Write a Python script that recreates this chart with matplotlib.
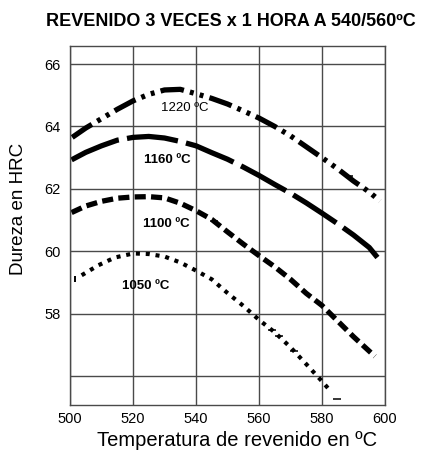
import matplotlib
matplotlib.use("Agg")
import matplotlib.pyplot as plt

# temperaturas de revenido (ºC) y dureza (HRC)
temp_1220 = [500.7, 505, 510, 515, 520, 525, 530, 535, 540, 545, 550, 555, 560,
             565, 570, 575, 580, 585, 590, 595, 598.4]
hrc_1220 = [63.65, 63.95, 64.25, 64.55, 64.82, 65.03, 65.17, 65.19, 65.05, 64.9, 64.72,
            64.5, 64.27, 64.0, 63.7, 63.35, 63.0, 62.64, 62.25, 61.9, 61.61]

temp_1160 = [500.5, 505, 510, 515, 520, 525, 530, 535, 540, 545, 550, 555, 560,
             565, 570, 575, 580, 585, 590, 595, 597.6]
hrc_1160 = [62.93, 63.17, 63.38, 63.56, 63.65, 63.68, 63.63, 63.52, 63.38, 63.16, 62.95,
            62.7, 62.43, 62.14, 61.86, 61.55, 61.22, 60.88, 60.52, 60.12, 59.8]

temp_1100 = [500.5, 505, 510, 515, 520, 525, 530, 535, 540, 545, 550, 555, 560,
             565, 570, 575, 580, 585, 590, 596.8]
hrc_1100 = [61.24, 61.45, 61.6, 61.7, 61.74, 61.75, 61.71, 61.54, 61.3, 61.02, 60.62,
            60.23, 59.86, 59.5, 59.1, 58.65, 58.26, 57.76, 57.26, 56.63]

temp_1050 = [503.7, 509, 514.3, 520.1, 525, 530, 535, 540, 545, 550, 555, 560,
             565, 570, 575, 580, 582.5]
hrc_1050 = [59.23, 59.55, 59.8, 59.93, 59.91, 59.83, 59.64, 59.38, 59.1, 58.66, 58.25,
            57.8, 57.4, 56.92, 56.38, 55.83, 55.54]

# pequeñas marcas sueltas del original escaneado
stray_x = [564.1, 566.3, 571.1, 584.8, 588.6, 545.7]
stray_y = [57.49, 57.27, 56.79, 55.27, 62.41, 60.98]

labels = ["1220 ºC", "1160 ºC", "1100 ºC", "1050 ºC"]
label_x = [536.5, 530.8, 530.5, 524.1]
label_y = [64.6, 62.91, 60.86, 58.88]

x_ticks = [500, 520, 540, 560, 580, 600]
y_ticks = [58, 60, 62, 64, 66]
y_grid = [56, 58, 60, 62, 64, 66]

plt.rcParams["font.family"] = ["Liberation Sans", "DejaVu Sans"]
plt.rcParams["lines.scale_dashes"] = False

fig = plt.figure(figsize=(4.26, 4.53), dpi=100)
ax = fig.add_axes([70 / 426, 48 / 453, 315 / 426, 359 / 453])

ax.set_xlim(500, 600)
ax.set_ylim(55.07, 66.58)

grid_col = "#4a4a4a"
for x in x_ticks:
    ax.axvline(x, color=grid_col, lw=1.0, zorder=1)
for y in y_grid:
    ax.axhline(y, color=grid_col, lw=1.0, zorder=1)
for s in ax.spines.values():
    s.set_color(grid_col)
    s.set_linewidth(1.0)

ax.plot(temp_1220, hrc_1220, color="black", lw=3.8, dash_capstyle="butt",
        dashes=(17, 4.5, 2.8, 4.5, 2.8, 4.5), zorder=2)
ax.plot(temp_1160, hrc_1160, color="black", lw=3.8, dash_capstyle="butt",
        dashes=(37, 6), zorder=2)
ax.plot(temp_1100, hrc_1100, color="black", lw=3.8, dash_capstyle="butt",
        dashes=(8, 3.8), zorder=2)
ax.plot(temp_1050, hrc_1050, color="black", lw=3.0, dash_capstyle="butt",
        dashes=(2.9, 4.2), zorder=2)
ax.plot(stray_x, stray_y, ls="none", marker="_", ms=6, mew=1.1, color="black", zorder=2)
ax.plot([501.6], [59.12], ls="none", marker="|", ms=5, mew=1.4, color="black", zorder=2)

weights = ["normal", "bold", "bold", "bold"]
for lab, tx, ty, w in zip(labels, label_x, label_y, weights):
    ax.text(tx, ty, lab, ha="center", va="center", fontsize=9.5,
            weight=w, zorder=3)

ax.set_xticks(x_ticks)
ax.set_yticks(y_ticks)
ax.tick_params(length=0, labelsize=10.5, colors="black")
ax.tick_params(axis="y", pad=7)
ax.tick_params(axis="x", pad=5)

fig.text(237.5 / 426, 1 - 440 / 453, "Temperatura de revenido en ºC",
         ha="center", va="center", fontsize=14.5)
fig.text(18.5 / 426, 1 - 208.5 / 453, "Dureza en HRC", rotation=90,
         ha="center", va="center", fontsize=13.5)

fig.text(231 / 426, 1 - 22 / 453, "REVENIDO 3 VECES x 1 HORA A 540/560ºC",
         ha="center", va="center", fontsize=13, weight="bold")

fig.savefig("out.png", dpi=100)
